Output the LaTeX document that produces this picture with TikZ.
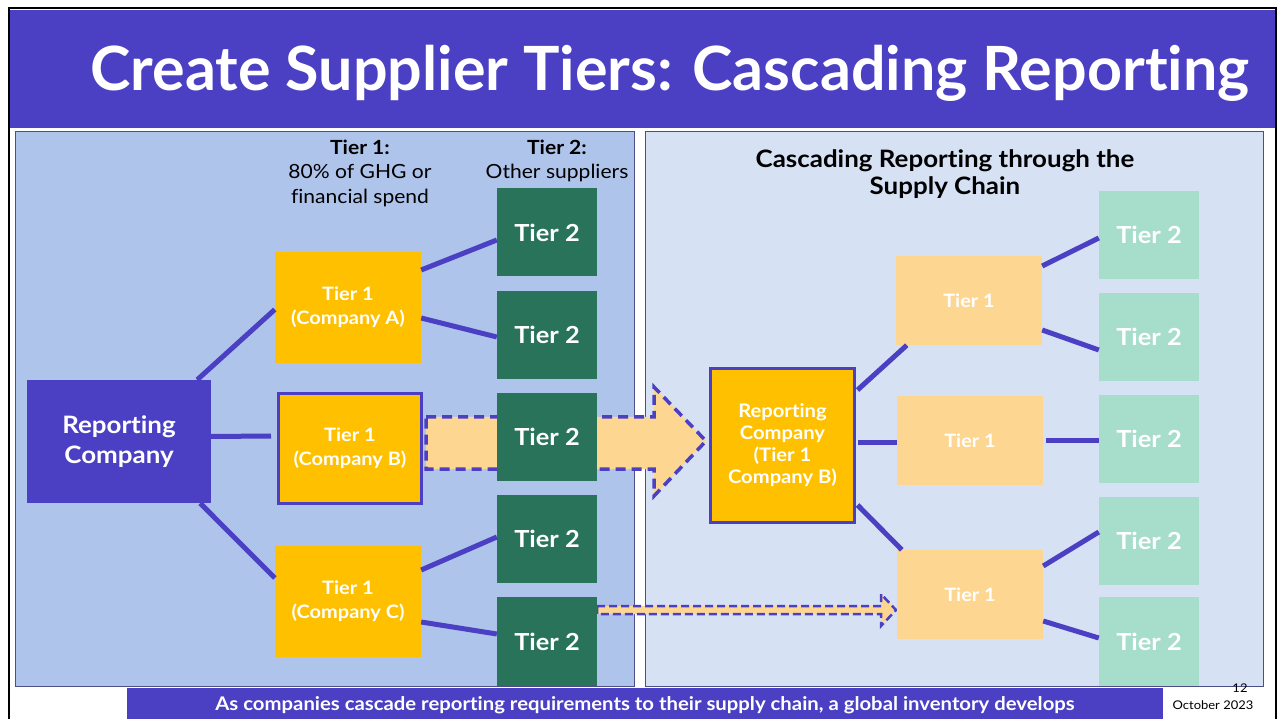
\documentclass[tikz,border=0pt]{standalone}
\usepackage{fontspec}
\setmainfont{Lato}[Ligatures=NoCommon, FakeStretch=1.08]
\newfontfamily\titlefont{Lato}[Ligatures=NoCommon]
\definecolor{pur}{HTML}{4B40C4}
\definecolor{yel}{HTML}{FFC000}
\definecolor{dgreen}{HTML}{28735A}
\definecolor{lorange}{HTML}{FDD792}
\definecolor{lgreen}{HTML}{A6DDCB}
\definecolor{lpanel}{HTML}{AFC4EA}
\definecolor{rpanel}{HTML}{D6E1F4}
\definecolor{pborder}{HTML}{4E4E86}
\begin{document}
\begin{tikzpicture}[x=1pt,y=-1pt,
  box/.style={rectangle, inner sep=0pt, align=center, text=white, font=\bfseries},
  yelbox/.style={box, fill=yel, minimum width=146pt, minimum height=111pt, font=\bfseries\fontsize{18.5}{24}\selectfont},
  dgbox/.style={box, fill=dgreen, minimum width=100pt, minimum height=88pt, font=\bfseries\fontsize{23.5}{26}\selectfont},
  lgbox/.style={box, fill=lgreen, minimum width=100pt, minimum height=88pt, font=\bfseries\fontsize{23.5}{26}\selectfont},
  lobox/.style={box, fill=lorange, minimum width=146pt, minimum height=89pt, font=\bfseries\fontsize{18.4}{20}\selectfont},
  link/.style={draw=pur, line width=5pt},
  dasharrow/.style={draw=pur, fill=lorange, dash pattern=on 10pt off 6pt, line width=3.5pt, line join=miter},
  lbl/.style={align=center, inner sep=0pt, text=black, font=\fontsize{19.5}{24.5}\selectfont}
]
\useasboundingbox (0,0) rectangle (1278,719);
\fill[white] (0,0) rectangle (1278,719);
% frame and header
\fill[pur] (10,10) rectangle (1275,128);
\draw[black, line width=2.5pt] (9,740) -- (9,8) -- (1276,8) -- (1276,740);
\node[inner sep=0pt, anchor=base, text=white, font=\titlefont\bfseries\fontsize{61}{64}\selectfont] (title) at (670,91) {Create Supplier Tiers: Cascading Reporting};
% panels
\draw[pborder, fill=lpanel, line width=1pt] (15,132) rectangle (634,686);
\draw[pborder, fill=rpanel, line width=1pt] (645,132) rectangle (1263,686);
% bottom banner
\fill[pur] (127,688) rectangle (1163,719);
\node[inner sep=0pt, anchor=base, text=white, font=\bfseries\fontsize{18.8}{20}\selectfont] (banner) at (645,710) {As companies cascade reporting requirements to their supply chain, a global inventory develops};
\node[inner sep=0pt, font=\fontsize{12}{12}\selectfont] (pg) at (1240,688) {12};
\node[inner sep=0pt, font=\fontsize{12}{12}\selectfont] (date) at (1213,705) {October 2023};

% left labels
\node[lbl] (l1) at (360,173) {\textbf{Tier 1:}\\80\% of GHG or\\financial spend};
\node[lbl] (l2) at (557,161) {\textbf{Tier 2:}\\Other suppliers};

% big dashed arrow (behind tier 2 box)
\path[dasharrow] (426,417) -- (654,417) -- (654,387) -- (706,441) -- (654,496) -- (654,469) -- (426,469) -- cycle;
% small dashed arrow
\path[dasharrow, dash pattern=on 8pt off 4pt, line width=2.5pt] (597,606) -- (881,606) -- (881,594) -- (896,610) -- (881,626) -- (881,614) -- (597,614) -- cycle;

% left nodes
\node[box, fill=pur, minimum width=184pt, minimum height=123pt, font=\bfseries\fontsize{24}{30}\selectfont] (rc) at (119,441.5) {Reporting\\Company};
\node[yelbox] (t1a) at (348,307.5) {Tier 1\\(Company A)};
\node[yelbox, draw=pur, line width=3pt, minimum width=143pt, minimum height=110pt] (t1b) at (350,448.5) {Tier 1\\(Company B)};
\node[yelbox] (t1c) at (348,601.5) {Tier 1\\(Company C)};
\node[dgbox] (t2a) at (547,232.5) {Tier 2};
\node[dgbox] (t2b) at (547,335) {Tier 2};
\node[dgbox] (t2c) at (547,437) {Tier 2};
\node[dgbox] (t2d) at (547,539) {Tier 2};
\node[dgbox, minimum height=89pt] (t2e) at (547,641.5) {Tier 2};

\draw[link] ([xshift=-14pt]rc.north east) -- ([yshift=-2pt]t1a.west);
\draw[link] ([yshift=5pt]rc.east) -- ([xshift=-6pt,yshift=12.5pt]t1b.west);
\draw[link] ([xshift=-11pt]rc.south east) -- ([yshift=23.5pt]t1c.west);
\draw[link] ([yshift=37.5pt]t1a.east) -- ([yshift=-7.5pt]t2a.west);
\draw[link] ([yshift=-10.5pt]t1a.east) -- ([yshift=-2pt]t2b.west);
\draw[link] ([yshift=31.5pt]t1c.east) -- ([yshift=2pt]t2d.west);
\draw[link] ([yshift=-20.5pt]t1c.east) -- ([yshift=7.5pt]t2e.west);

% right side
\node[inner sep=0pt, align=center, font=\bfseries\fontsize{24}{27}\selectfont] (rtitle) at (945,174) {Cascading Reporting through the\\Supply Chain};
\node[box, fill=yel, draw=pur, line width=3pt, minimum width=144pt, minimum height=154pt, font=\bfseries\fontsize{18.7}{22}\selectfont] (rc2) at (782.5,445.5) {Reporting\\Company\\(Tier 1\\Company B)};
\node[lobox] (r1a) at (969,300.5) {Tier 1};
\node[lobox] (r1b) at (970,440.5) {Tier 1};
\node[lobox] (r1c) at (970,594.5) {Tier 1};
\node[lgbox] (r2a) at (1149,235) {Tier 2};
\node[lgbox] (r2b) at (1149,337) {Tier 2};
\node[lgbox] (r2c) at (1149,439) {Tier 2};
\node[lgbox] (r2d) at (1149,541) {Tier 2};
\node[lgbox, minimum height=89pt] (r2e) at (1149,641.5) {Tier 2};

\draw[link] ([xshift=1.5pt,yshift=-23pt]rc2.north east) -- ([xshift=11pt]r1a.south west);
\draw[link] ([xshift=1.5pt,yshift=3pt]rc2.east) -- ([yshift=-2pt]r1b.west);
\draw[link] ([xshift=3pt]r1b.east) -- ([yshift=-1.5pt]r2c.west);
\draw[link] ([xshift=1.5pt,yshift=19pt]rc2.south east) -- ([xshift=5pt]r1c.north west);
\draw[link] ([yshift=34.5pt]r1a.east) -- ([yshift=-3pt]r2a.west);
\draw[link] ([yshift=-29.5pt]r1a.east) -- ([yshift=-13pt]r2b.west);
\draw[link] ([yshift=28.5pt]r1c.east) -- ([yshift=9pt]r2d.west);
\draw[link] ([yshift=-26.5pt]r1c.east) -- ([yshift=3.5pt]r2e.west);
\end{tikzpicture}
\end{document}
